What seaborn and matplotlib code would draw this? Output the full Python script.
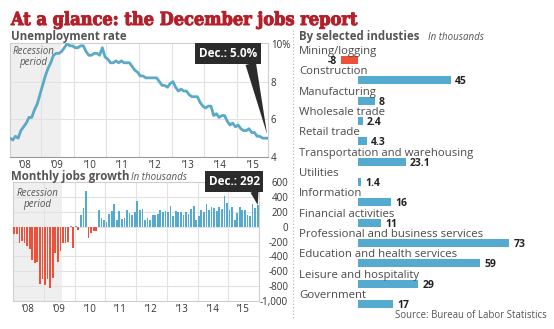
import numpy as np
import pandas as pd
import matplotlib
matplotlib.use("Agg")
import matplotlib.pyplot as plt
import matplotlib.transforms as mtransforms
import matplotlib.patheffects as pe
from matplotlib.lines import Line2D
import seaborn as sns

# ------------------------------------------------------------------ data
year_labels = ["\u201908", "\u201909", "\u201910", "\u201911", "\u201912", "\u201913", "\u201914", "\u201915"]

unemployment_rate = [
    5.0, 4.9, 5.1, 5.0, 5.4, 5.6, 5.8, 6.1, 6.1, 6.5, 6.8, 7.3,
    7.8, 8.3, 8.7, 9.0, 9.4, 9.5, 9.5, 9.6, 9.8, 10.0, 9.9, 9.9,
    9.8, 9.8, 9.9, 9.9, 9.6, 9.4, 9.4, 9.5, 9.5, 9.4, 9.8, 9.3,
    9.2, 9.0, 9.0, 9.1, 9.0, 9.1, 9.0, 9.0, 9.0, 8.8, 8.6, 8.5,
    8.3, 8.3, 8.2, 8.2, 8.2, 8.2, 8.2, 8.0, 7.8, 7.8, 7.7, 7.9,
    8.0, 7.7, 7.5, 7.6, 7.5, 7.5, 7.3, 7.2, 7.2, 7.2, 6.9, 6.7,
    6.6, 6.7, 6.7, 6.2, 6.3, 6.1, 6.2, 6.2, 5.9, 5.7, 5.8, 5.6,
    5.7, 5.5, 5.4, 5.4, 5.5, 5.3, 5.3, 5.1, 5.1, 5.0, 5.0, 5.0,
]

jobs_change = [
    -100, -95, -215, -195, -225, -260, -300, -455, -490, -480, -770, -700,
    -790, -705, -825, -690, -350, -470, -330, -215, -225, -200, 5, -285,
    15, -50, 155, 250, 480, -150, -80, -55, -60, 220, 120, 90,
    65, 170, 215, 310, 95, 210, 100, 115, 220, 180, 160, 200,
    350, 230, 240, 95, 110, 85, 160, 150, 165, 220, 200, 215,
    195, 280, 140, 205, 200, 200, 150, 200, 165, 240, 275, 85,
    145, 225, 200, 310, 230, 265, 245, 205, 270, 240, 410, 315,
    220, 260, 85, 185, 260, 230, 230, 150, 145, 300, 250, 292,
]

industries = [
    "Mining/logging", "Construction", "Manufacturing", "Wholesale trade",
    "Retail trade", "Transportation and warehousing", "Utilities",
    "Information", "Financial activities", "Professional and business services",
    "Education and health services", "Leisure and hospitality", "Government",
]
industry_change = [-8, 45, 8, 2.4, 4.3, 23.1, 1.4, 16, 11, 73, 59, 29, 17]

recession_end = 18.8   # month index where the shaded recession band ends

# ------------------------------------------------------------------ style
sns.set_style("white")
plt.rcParams["font.family"] = ["Open Sans", "DejaVu Sans"]

BLUE = "#55aad0"
LINE = "#5aa9c6"
RED = "#ef503a"
GRID = "#e2e2e2"
SPINE = "#cfcfcf"
SHADE = "#efefef"
GRAYTXT = "#555555"
DARK = "#2b2b2b"

W, H = 554, 329
fig = plt.figure(figsize=(W / 100, H / 100), dpi=100)


def rect(x0, y0, x1, y1):
    return [x0 / W, 1 - y1 / H, (x1 - x0) / W, (y1 - y0) / H]


ax1 = fig.add_axes(rect(10, 43, 268, 157))
ax2 = fig.add_axes(rect(13, 182, 259, 301))
ax3 = fig.add_axes(rect(299, 40, 548, 314))

n = len(unemployment_rate)
year_ticks = [12 * k + 5.5 for k in range(len(year_labels))]
year_bounds = [12 * k - 0.5 for k in range(1, len(year_labels))]

# ------------------------------------------------------------------ unemployment line
df_u = pd.DataFrame({"month": np.arange(n), "rate": unemployment_rate})
ax1.axvspan(-1, recession_end, color=SHADE, zorder=0, lw=0)
sns.lineplot(data=df_u, x="month", y="rate", ax=ax1, color=LINE, lw=2.0, zorder=3)
ax1.set_xlim(0, n - 1)
ax1.set_ylim(4, 10.05)
for xb in year_bounds:
    ax1.axvline(xb, color=GRID, lw=0.8, zorder=1)
for yv in [6, 8]:
    ax1.axhline(yv, color=GRID, lw=0.8, zorder=1)
ax1.set_xticks(year_ticks)
ax1.set_xticklabels(year_labels)
ax1.set_yticks([4, 6, 8, 10])
ax1.set_yticklabels(["4", "6", "8", "10%"])
ax1.yaxis.tick_right()
ax1.tick_params(axis="y", length=0, pad=2, labelsize=7, labelcolor="#333333")
ax1.tick_params(axis="x", length=0, pad=2, labelsize=7, labelcolor="#333333")
ax1.set_xlabel("")
ax1.set_ylabel("")
for s in ax1.spines.values():
    s.set_color(SPINE)
    s.set_linewidth(0.8)
ax1.spines["bottom"].set_color("#999999")
ax1.text(0.09, 0.875, "Recession\nperiod", transform=ax1.transAxes, ha="center", va="center",
         fontsize=7, style="italic", color=GRAYTXT, linespacing=1.0)

ax1.annotate("Dec.: 5.0%", xy=(n - 1, unemployment_rate[-1]), xytext=(-29, 61),
             textcoords="offset points", ha="center", va="center", fontsize=8.5,
             fontweight="bold", color="white", zorder=6, annotation_clip=False,
             bbox=dict(boxstyle="square,pad=0.32", fc=DARK, ec="none"),
             arrowprops=dict(arrowstyle="wedge,tail_width=0.9,shrink_factor=0.5",
                             fc=DARK, ec="none", relpos=(0.88, 0.0), shrinkA=0, shrinkB=3))

# ------------------------------------------------------------------ monthly jobs bars
df_j = pd.DataFrame({"month": np.arange(len(jobs_change)), "jobs": jobs_change})
df_j["sign"] = np.where(df_j["jobs"] < 0, "neg", "pos")
ax2.axvspan(-1, recession_end * (len(jobs_change)) / (n - 1) - 0.5, color=SHADE, zorder=0, lw=0)
sns.barplot(data=df_j, x="month", y="jobs", hue="sign", palette={"neg": RED, "pos": BLUE},
            dodge=False, width=0.7, legend=False, errorbar=None, ax=ax2, zorder=3,
            saturation=1, linewidth=0)
ax2.set_xlim(-0.5, len(jobs_change) - 0.5)
ax2.set_ylim(-1000, 600)
for xb in year_bounds:
    ax2.axvline(xb, color=GRID, lw=0.8, zorder=1)
jobs_ticks = list(range(-1000, 601, 200))
for yv in jobs_ticks[1:-1]:
    ax2.axhline(yv, color=GRID, lw=0.8, zorder=1)
ax2.set_xticks(year_ticks)
ax2.set_xticklabels(year_labels)
ax2.set_yticks(jobs_ticks)
ax2.set_yticklabels([f"{v:,}" for v in jobs_ticks])
ax2.yaxis.tick_right()
for lab in ax2.get_yticklabels():
    lab.set_ha("right")
ax2.tick_params(axis="y", length=0, pad=21, labelsize=7, labelcolor="#333333")
ax2.tick_params(axis="x", length=0, pad=2, labelsize=7, labelcolor="#333333")
ax2.set_xlabel("")
ax2.set_ylabel("")
for s in ax2.spines.values():
    s.set_color(SPINE)
    s.set_linewidth(0.8)
ax2.text(0.10, 0.86, "Recession\nperiod", transform=ax2.transAxes, ha="center", va="center",
         fontsize=7, style="italic", color=GRAYTXT, linespacing=1.0)

ax2.annotate(f"Dec.: {jobs_change[-1]}", xy=(len(jobs_change) - 1, jobs_change[-1]), xytext=(-17, 17),
             textcoords="offset points", ha="center", va="center", fontsize=8.5,
             fontweight="bold", color="white", zorder=6, annotation_clip=False,
             bbox=dict(boxstyle="square,pad=0.32", fc=DARK, ec="none"),
             arrowprops=dict(arrowstyle="wedge,tail_width=0.7,shrink_factor=0.5",
                             fc=DARK, ec="none", relpos=(0.88, 0.0), shrinkA=0, shrinkB=0))

# ------------------------------------------------------------------ industries
df_i = pd.DataFrame({"industry": industries, "change": industry_change})
df_i["sign"] = np.where(df_i["change"] < 0, "neg", "pos")
sns.barplot(data=df_i, y="industry", x="change", hue="sign", palette={"neg": RED, "pos": BLUE},
            dodge=False, width=0.4, orient="h", legend=False, errorbar=None, ax=ax3,
            saturation=1, linewidth=0)
ax3.set_xlim(-28.5, 91.8)
ax3.set_ylim(12.49, -0.98)
ax3.axis("off")
blend = mtransforms.blended_transform_factory(ax3.transAxes, ax3.transData)
for i, (name, v) in enumerate(zip(industries, industry_change)):
    ax3.text(0, i - 0.3, name, transform=blend, ha="left", va="baseline",
             fontsize=8.2, color="#4a4a4a")
    ax3.annotate(f"{v:g}", xy=(v, i), xytext=(3 if v >= 0 else -3, -1),
                 textcoords="offset points", ha="left" if v >= 0 else "right",
                 va="center", fontsize=7.5, fontweight="bold", color="#222222")

# ------------------------------------------------------------------ titles & texts
fig.text(11 / W, 1 - 25 / H, "At a glance: the December jobs report", ha="left", va="baseline",
         fontsize=13, fontweight="bold", color="#b3202a", family=["DejaVu Serif"],
         fontstretch="condensed",
         path_effects=[pe.withStroke(linewidth=0.7, foreground="#b3202a")])
fig.text(11 / W, 1 - 40 / H, "Unemployment rate", ha="left", va="baseline",
         fontsize=8.3, fontweight="bold", color=GRAYTXT)
fig.text(11 / W, 1 - 180 / H, "Monthly jobs growth", ha="left", va="baseline",
         fontsize=8.3, fontweight="bold", color=GRAYTXT)
fig.text(131 / W, 1 - 180 / H, "In thousands", ha="left", va="baseline",
         fontsize=7, style="italic", color=GRAYTXT)
fig.text(299 / W, 1 - 40 / H, "By selected industies", ha="left", va="baseline",
         fontsize=8.3, fontweight="bold", color=GRAYTXT)
fig.text(428 / W, 1 - 40 / H, "In thousands", ha="left", va="baseline",
         fontsize=7, style="italic", color=GRAYTXT)
fig.text(547 / W, 1 - 317.5 / H, "Source: Bureau of Labor Statistics", ha="right", va="baseline",
         fontsize=6.9, color=GRAYTXT)

fig.add_artist(Line2D([293 / W, 293 / W], [1 - 30 / H, 1 - 318 / H], transform=fig.transFigure,
                      color="#b0b0b0", lw=0.8, ls=(0, (1, 2))))

fig.savefig("out.png", dpi=100)
